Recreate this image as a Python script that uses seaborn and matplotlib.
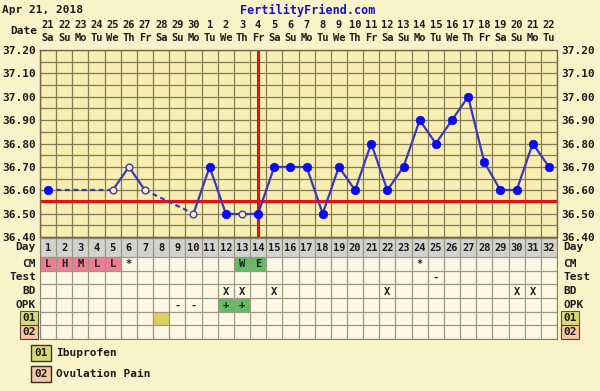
import numpy as np
import pandas as pd
import matplotlib
matplotlib.use('Agg')
import matplotlib.pyplot as plt
import seaborn as sns
from matplotlib.patches import Rectangle

# chart data
day = list(range(1, 33))
date_num = ['21', '22', '23', '24', '25', '26', '27', '28', '29', '30',
            '1', '2', '3', '4', '5', '6', '7', '8', '9', '10', '11', '12',
            '13', '14', '15', '16', '17', '18', '19', '20', '21', '22']
weekday = ['Sa', 'Su', 'Mo', 'Tu', 'We', 'Th', 'Fr'] * 5
weekday = weekday[:32]
temp = [36.60, None, None, None, 36.60, 36.70, 36.60, None, None, 36.50,
        36.70, 36.50, 36.50, 36.50, 36.70, 36.70, 36.70, 36.50, 36.70, 36.60,
        36.80, 36.60, 36.70, 36.90, 36.80, 36.90, 37.00, 36.72, 36.60, 36.60,
        36.80, 36.70]
discarded = [5, 6, 7, 10, 13]
coverline = 36.555
ovulation_day = 14

cm_days = [1, 2, 3, 4, 5, 6, 13, 14, 24]
cm_text = ['L', 'H', 'M', 'L', 'L', '*', 'W', 'E', '*']
cm_fill = ['pink'] * 5 + [None, 'green', 'green', None]
test_days = [25]
test_text = ['-']
bd_days = [12, 13, 15, 22, 30, 31]
opk_days = [9, 10, 12, 13]
opk_text = ['-', '-', '+', '+']
opk_fill = [None, None, 'green', 'green']
o1_days = [8]
o2_days = []

# colours
page_bg = '#faf2c8'
grid_bg = '#f8eeb2'
cell_bg = '#fdf8e4'
line_c = '#3a3ab8'
dot_c = '#0a0af0'
red = '#e3120f'
fills = {'pink': '#ef7e93', 'green': '#5fbe62', 'olive': '#d6d25c'}

sns.set_style('white')
plt.rcParams['font.family'] = ['DejaVu Sans Mono']
plt.rcParams['font.weight'] = 'bold'
FS = 7.5
TXT = '#1c1c1c'

W, H = 600, 391
fig = plt.figure(figsize=(W / 100, H / 100), dpi=100)
fig.patch.set_facecolor(page_bg)


def px(x0, y0, x1, y1):
    return [x0 / W, 1 - y1 / H, (x1 - x0) / W, (y1 - y0) / H]


def ftext(x, y, s, **kw):
    kw.setdefault('fontsize', FS)
    kw.setdefault('color', TXT)
    kw.setdefault('fontweight', 'bold')
    kw.setdefault('va', 'center')
    fig.text(x / W, 1 - y / H, s, **kw)


# ---- temperature panel ----
ax = fig.add_axes(px(40, 50, 557, 237))
ax.set_facecolor(grid_bg)
ax.set_xlim(0.5, 32.5)
ax.set_ylim(36.40, 37.20)
ax.set_xticks([])
ax.set_xticks(np.arange(0.5, 33, 1), minor=True)
yt = np.round(np.arange(36.40, 37.201, 0.10), 2)
ax.set_yticks(yt)
ax.set_yticklabels([f'{v:.2f}' for v in yt], fontweight='bold')
ax.set_yticks(np.arange(36.45, 37.2, 0.10), minor=True)
ax.tick_params(axis='both', which='both', length=0, labelleft=True,
               labelright=True, pad=3, labelsize=8, labelcolor=TXT)
ax.tick_params(axis='x', which='minor', labelbottom=False)
ax.grid(which='both', color='#837b57', lw=0.9)
ax.set_axisbelow(True)
for s in ax.spines.values():
    s.set_color('#6f6848')
    s.set_linewidth(1)

df = pd.DataFrame({'day': day, 'temp': temp}).dropna()
df['open'] = df['day'].isin(discarded)

# line segments: solid for consecutive days, dashed across gaps
segs = []
rows = df.to_dict('records')
for i in range(len(rows) - 1):
    a, b = rows[i], rows[i + 1]
    kind = 'solid' if b['day'] - a['day'] == 1 else 'gap'
    segs.append({'seg': i, 'kind': kind, 'day': a['day'], 'temp': a['temp']})
    segs.append({'seg': i, 'kind': kind, 'day': b['day'], 'temp': b['temp']})
seg_df = pd.DataFrame(segs)

ax.axhline(coverline, color=red, lw=2.2, zorder=2)
ax.axvline(ovulation_day, color=red, lw=2.2, zorder=2)

sns.lineplot(data=seg_df, x='day', y='temp', units='seg', style='kind',
             estimator=None, dashes={'solid': '', 'gap': (2.2, 1.6)},
             color=line_c, lw=1.6, legend=False, ax=ax, zorder=3)
sns.scatterplot(data=df[~df['open']], x='day', y='temp', color=dot_c,
                s=38, edgecolor=dot_c, linewidth=0.5, legend=False, ax=ax,
                zorder=4)
sns.scatterplot(data=df[df['open']], x='day', y='temp', color=grid_bg,
                s=24, edgecolor=line_c, linewidth=1.0, legend=False, ax=ax,
                zorder=4)
ax.set_xlabel('')
ax.set_ylabel('')

# header
for d, n, w in zip(day, date_num, weekday):
    x = 40 + (d - 0.5) * (517 / 32)
    ftext(x, 25, n, ha='center')
    ftext(x, 38, w, ha='center')
ftext(37, 31, 'Date', ha='right', fontsize=8)
ftext(2, 10, 'Apr 21, 2018', ha='left', fontsize=8)
ftext(240, 10, 'FertilityFriend.com', ha='left', fontsize=8.5,
      color='#1414c8')

# ---- lower table ----
tb = fig.add_axes(px(40, 238, 557, 339))
tb.set_facecolor(cell_bg)
bounds = [0, 19, 32.7, 46.4, 60.1, 73.8, 87.5, 101.2]
centers = [(bounds[i] + bounds[i + 1]) / 2 for i in range(7)]
tb.set_xlim(0.5, 32.5)
tb.set_ylim(bounds[-1], 0)
tb.set_xticks([])
tb.set_yticks([])
tb.set_xticks(np.arange(0.5, 33, 1), minor=True)
tb.set_yticks(bounds, minor=True)
tb.tick_params(which='both', length=0, labelbottom=False, labelleft=False)
tb.grid(which='minor', color='#9e9683', lw=0.9)
tb.set_axisbelow(True)
for s in tb.spines.values():
    s.set_color('#8a8270')

tb.add_patch(Rectangle((0.5, 0), 32, bounds[1], facecolor='#d2d2d0',
                       edgecolor='none', zorder=0.2))
for d in day:
    tb.text(d, centers[0] + 0.5, str(d), ha='center', va='center',
            fontsize=FS, fontweight='bold', color=TXT)


def cell(row, d, text=None, fill=None):
    if fill:
        tb.add_patch(Rectangle((d - 0.5, bounds[row]), 1,
                               bounds[row + 1] - bounds[row],
                               facecolor=fills[fill], edgecolor='none',
                               zorder=0.2))
    if text:
        tb.text(d, centers[row] + 0.6, text, ha='center', va='center',
                fontsize=FS, fontweight='bold', color=TXT, zorder=3)


for d, t, f in zip(cm_days, cm_text, cm_fill):
    cell(1, d, t, f)
for d, t in zip(test_days, test_text):
    cell(2, d, t)
for d in bd_days:
    cell(3, d, 'X')
for d, t, f in zip(opk_days, opk_text, opk_fill):
    cell(4, d, t, f)
for d in o1_days:
    cell(5, d, None, 'olive')
for d in o2_days:
    cell(6, d, None, 'pink')

row_names = ['Day', 'CM', 'Test', 'BD', 'OPK', '01', '02']
box_style = {'01': dict(boxstyle='square,pad=0.2', fc='#d9d97c',
                        ec='#5a5a30', lw=0.8),
             '02': dict(boxstyle='square,pad=0.2', fc='#f2c7a2',
                        ec='#5a4030', lw=0.8)}
tr = tb.get_yaxis_transform()
for name, c in zip(row_names, centers):
    bb = box_style.get(name)
    tb.text(-4 / 517, c, name, transform=tr, ha='right', va='center',
            fontsize=8, fontweight='bold', color=TXT, bbox=bb)
    tb.text(1 + 6 / 517, c, name, transform=tr, ha='left', va='center',
            fontsize=8, fontweight='bold', color=TXT, bbox=bb)

# legend
ftext(34, 353, '01', ha='left', fontsize=8,
      bbox=dict(boxstyle='square,pad=0.3', fc='#d9d97c', ec='#3a3a20', lw=1))
ftext(56, 353, 'Ibuprofen', ha='left', fontsize=8)
ftext(34, 374, '02', ha='left', fontsize=8,
      bbox=dict(boxstyle='square,pad=0.3', fc='#f2c7a2', ec='#3a2a20', lw=1))
ftext(56, 374, 'Ovulation Pain', ha='left', fontsize=8)

fig.savefig('out.png', dpi=100, facecolor=page_bg)
